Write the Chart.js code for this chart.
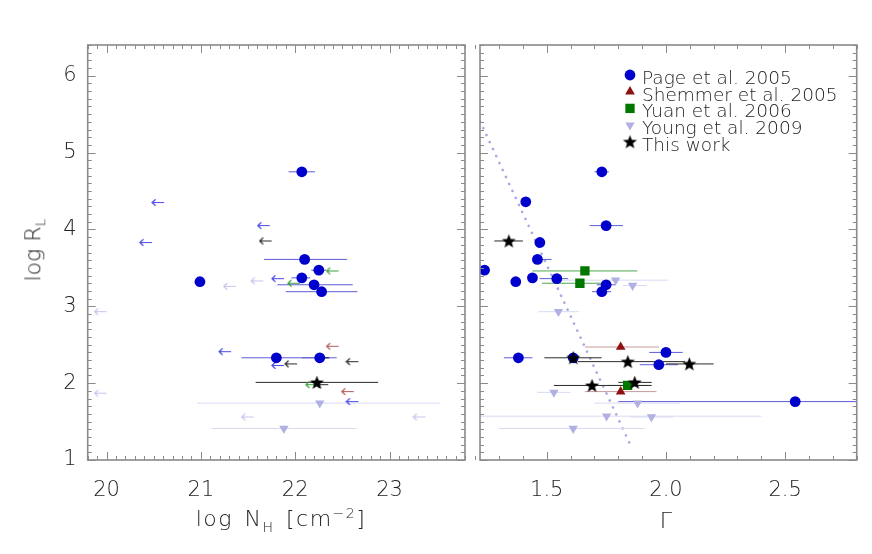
<!DOCTYPE html>
<html>
<head>
<meta charset="utf-8">
<script src="https://cdn.jsdelivr.net/npm/chart.js@4.4.0/dist/chart.umd.min.js"></script>
<style>
    body { margin: 0; background: #fff; }
    #wrap { position: relative; width: 872px; height: 554px; overflow: hidden; font-family: "DejaVu Sans", sans-serif; font-weight: 200; color: #222; }
    canvas { position: absolute; top: 0; }
    #left-chart, #left-ticks { left: 0; }
    #right-chart, #right-ticks { left: 468px; }
    #left-ticks, #right-ticks { pointer-events: none; }
    .axis-title { position: absolute; font-size: 22px; white-space: nowrap; line-height: 1; }
    .axis-title sub, .axis-title sup { font-size: 14px; }
    #ytitle { left: 35px; top: 250px; transform: translate(-50%, -50%) rotate(-90deg); }
    #xtitle-left { left: 281px; top: 520px; transform: translate(-50%, -50%); letter-spacing: 1.5px; word-spacing: 3px; }
    #xtitle-right { left: 666px; top: 521px; transform: translate(-50%, -50%); }
</style>
</head>
<body>
<div id="wrap">
    <canvas id="left-chart" width="475" height="554"></canvas>
    <canvas id="right-chart" width="404" height="554"></canvas>
    <canvas id="left-ticks" width="475" height="554"></canvas>
    <canvas id="right-ticks" width="404" height="554"></canvas>
    <div class="axis-title" id="ytitle">log R<sub>L</sub></div>
    <div class="axis-title" id="xtitle-left">log N<sub>H</sub> [cm<sup>&minus;2</sup>]</div>
    <div class="axis-title" id="xtitle-right">&Gamma;</div>
</div>
<script>
// ---- left panel: log NH ----
let pageNH = [22.07, 22.10, 22.25, 20.99, 22.07, 22.20, 22.28, 21.80, 22.26];
let pageNHRL = [4.75, 3.61, 3.47, 3.32, 3.37, 3.28, 3.19, 2.33, 2.33];
let pageNHLo = [21.93, 21.67, 22.17, null, 21.96, 21.81, 21.90, 21.43, 22.07];
let pageNHHi = [22.21, 22.55, 22.33, null, 22.16, 22.61, 22.66, 22.44, 22.36];
let pageLimNH = [20.61, 21.73, 20.48, 21.88, 21.32, 21.88, 22.67];
let pageLimRL = [4.35, 4.05, 3.83, 3.36, 2.41, 2.23, 1.76];
let shemmerLimNH = [22.46, 22.62];
let shemmerLimRL = [2.48, 1.89];
let yuanLimNH = [22.46, 22.05, 22.24];
let yuanLimRL = [3.46, 3.30, 1.98];
let youngNH = [22.26, 21.88];
let youngNHRL = [1.74, 1.41];
let youngNHLo = [20.96, 21.12];
let youngNHHi = [23.54, 22.65];
let youngLimNH = [21.37, 21.66, 20.00, 20.00, 21.56, 23.38];
let youngLimRL = [3.26, 3.33, 2.93, 1.87, 1.56, 1.56];
let workNH = [22.23];
let workNHRL = [2.01];
let workNHLo = [21.58];
let workNHHi = [22.88];
let workLimNH = [21.75, 22.36, 22.67, 22.02, 22.35];
let workLimRL = [3.85, 2.33, 2.28, 2.25, 1.98];

// ---- right panel: Gamma ----
let pageG = [1.731, 1.412, 1.749, 1.471, 1.461, 1.239, 1.370, 1.440, 1.542, 1.749, 1.731, 2.000, 1.381, 1.611, 1.970, 2.542];
let pageGRL = [4.75, 4.36, 4.05, 3.83, 3.61, 3.47, 3.32, 3.37, 3.36, 3.28, 3.19, 2.40, 2.33, 2.33, 2.24, 1.76];
let pageGLo = [1.70, null, 1.68, null, 1.44, null, null, null, 1.47, 1.71, 1.69, 1.93, 1.32, null, 1.89, 1.80];
let pageGHi = [1.76, null, 1.82, null, 1.52, null, null, null, 1.59, 1.79, 1.77, 2.07, 1.44, null, 2.05, 3.00];
let shemmerG = [1.81, 1.81];
let shemmerGRL = [2.47, 1.89];
let shemmerGLo = [1.66, 1.66];
let shemmerGHi = [1.97, 1.96];
let yuanG = [1.660, 1.639, 1.839];
let yuanGRL = [3.46, 3.30, 1.97];
let yuanGLo = [1.44, 1.48, 1.76];
let yuanGHi = [1.88, 1.76, 1.92];
let youngG = [1.789, 1.860, 1.549, 1.530, 1.881, 1.751, 1.939, 1.611];
let youngGRL = [3.34, 3.27, 2.93, 1.88, 1.74, 1.57, 1.56, 1.41];
let youngGLo = [1.53, 1.82, 1.465, 1.46, 1.70, 1.15, 1.85, 1.30];
let youngGHi = [2.01, 1.92, 1.636, 1.60, 2.06, 2.40, 2.03, 1.91];
let workG = [1.341, 1.611, 1.840, 2.098, 1.690, 1.869];
let workGRL = [3.85, 2.33, 2.28, 2.25, 1.97, 2.01];
let workGLo = [1.28, 1.49, 1.63, 2.00, 1.53, 1.80];
let workGHi = [1.40, 1.73, 2.08, 2.20, 1.94, 1.94];
let fitG = [1.22, 1.85];
let fitRL = [5.41, 1.20];

let legendNames = ['Page et al. 2005', 'Shemmer et al. 2005', 'Yuan et al. 2006', 'Young et al. 2009', 'This work'];
let xTicksLeft = [20, 21, 22, 23];
let xTicksRight = [1.5, 2.0, 2.5];
let yTicks = [1, 2, 3, 4, 5, 6];

let colors = {
    page: '#0000cc', pageBar: '#5c5cd8', pageArrow: '#4a4ae6',
    shemmer: '#8e1010', shemmerBar: '#c99a9a', shemmerArrow: '#b35a5a',
    yuan: '#007800', yuanBar: '#4fa64f', yuanArrow: '#40a040',
    young: '#b0b0e2', youngBar: '#d9d9f3', youngArrow: '#c4c4ee',
    work: '#000000', workBar: '#2a2a2a', workArrow: '#2a2a2a',
    fit: '#a8a8e0', frame: '#8a8a8a', text: '#222222'
};
let fontFamily = '"DejaVu Sans", sans-serif';

function points(xs, ys) {
    return xs.map((x, i) => ({ x: x, y: ys[i] }));
}

function barPoints(lo, hi, ys) {
    let pts = [];
    for (let i = 0; i < ys.length; i++) {
        if (lo[i] === null) continue;
        pts.push({ x: lo[i], y: ys[i] }, { x: hi[i], y: ys[i] }, { x: hi[i], y: null });
    }
    return pts;
}

// arrow pointing left, tail at the image centre
function makeArrow(color) {
    let c = document.createElement('canvas');
    c.width = 26;
    c.height = 9;
    let g = c.getContext('2d');
    g.strokeStyle = color;
    g.lineWidth = 1.2;
    g.beginPath();
    g.moveTo(13, 4.5);
    g.lineTo(1, 4.5);
    g.moveTo(4.5, 1.2);
    g.lineTo(1, 4.5);
    g.lineTo(4.5, 7.8);
    g.stroke();
    return c;
}

function makeStar(color, r) {
    let size = Math.ceil(r * 2 + 2);
    let c = document.createElement('canvas');
    c.width = size;
    c.height = size;
    let g = c.getContext('2d');
    g.fillStyle = color;
    g.beginPath();
    for (let i = 0; i < 10; i++) {
        let rr = i % 2 ? r * 0.42 : r;
        let a = -Math.PI / 2 + i * Math.PI / 5;
        g.lineTo(size / 2 + rr * Math.cos(a), size / 2 + 0.6 + rr * Math.sin(a));
    }
    g.closePath();
    g.fill();
    return c;
}

let starImg = makeStar(colors.work, 7.4);

function markerSet(label, data, color, style, radius, rotation) {
    return {
        label: label,
        data: data,
        pointStyle: style,
        pointRadius: radius,
        pointRotation: rotation || 0,
        pointBackgroundColor: color,
        backgroundColor: color,
        pointBorderWidth: 0,
        borderWidth: 0,
        showLine: false
    };
}

function arrowSet(data, color) {
    return {
        data: data,
        pointStyle: makeArrow(color),
        pointRadius: 6,
        pointBorderWidth: 0,
        showLine: false
    };
}

function barSet(data, color) {
    return {
        data: data,
        showLine: true,
        spanGaps: false,
        borderColor: color,
        borderWidth: 1,
        pointRadius: 0
    };
}

function isMajor(list, v) {
    for (let i = 0; i < list.length; i++) {
        if (Math.abs(list[i] - v) < 1e-6) return true;
    }
    return false;
}

// pixel for a value on a scale, falling back to the chart area if it looks wrong
function pixelFor(scale, v, lo, hi, start, end) {
    let p = scale.getPixelForValue(v);
    let min = Math.min(start, end) - 2, max = Math.max(start, end) + 2;
    if (!isFinite(p) || p < min || p > max) {
        p = start + (v - lo) / (hi - lo) * (end - start);
    }
    return Math.round(p);
}

// frame plus inward ticks (minor every 0.1) on all four sides, drawn on an overlay canvas
function drawFrame(chart, overlayId, xMin, xMax, xMajor) {
    let ov = document.getElementById(overlayId);
    let ctx = ov.getContext('2d');
    let a = chart.chartArea;
    let xs = chart.scales.x;
    let ys = chart.scales.y;
    ctx.clearRect(0, 0, ov.width, ov.height);
    ctx.fillStyle = colors.frame;
    for (let k = Math.round(xMin * 10); k <= Math.round(xMax * 10); k++) {
        let v = k / 10;
        let len = isMajor(xMajor, v) ? 8 : 4;
        let px = pixelFor(xs, v, xMin, xMax, a.left, a.right);
        ctx.fillRect(px, a.bottom - len, 1, len);
        ctx.fillRect(px, a.top, 1, len);
    }
    for (let k = 10; k <= 64; k++) {
        let v = k / 10;
        let len = isMajor(yTicks, v) ? 8 : 4;
        let py = pixelFor(ys, v, 1, 6.4, a.bottom, a.top);
        ctx.fillRect(a.left, py, len, 1);
        ctx.fillRect(a.right - len, py, len, 1);
    }
    ctx.strokeStyle = colors.frame;
    ctx.lineWidth = 1.6;
    ctx.strokeRect(a.left, a.top, a.right - a.left, a.bottom - a.top);
}

let legendBox = {
    id: 'legendBox',
    afterDraw(chart) {
        let ctx = chart.ctx;
        let index = [4, 3, 2, 1, 0];
        ctx.save();
        ctx.font = '200 18.5px ' + fontFamily;
        ctx.textBaseline = 'middle';
        ctx.textAlign = 'left';
        for (let i = 0; i < legendNames.length; i++) {
            let ds = chart.data.datasets[index[i]];
            let y = 75 + i * 16.7;
            ctx.fillStyle = ds.pointBackgroundColor || '#000';
            Chart.helpers.drawPoint(ctx, {
                pointStyle: ds.pointStyle,
                radius: ds.pointRadius,
                rotation: ds.pointRotation || 0,
                borderWidth: 0
            }, 162, y);
            ctx.fillStyle = colors.text;
            ctx.fillText(legendNames[i], 174, y + 4);
        }
        ctx.restore();
    }
};

function tickFont() {
    return { family: fontFamily, size: 21, weight: 200 };
}

function makeOptions(xMin, xMax, xTicks, yWidth, padRight, showY, decimals) {
    return {
        responsive: false,
        maintainAspectRatio: false,
        animation: false,
        devicePixelRatio: 1,
        layout: { padding: { top: 45, right: padRight, left: 0, bottom: 0 } },
        plugins: {
            legend: { display: false },
            tooltip: { enabled: false }
        },
        scales: {
            x: {
                type: 'linear',
                min: xMin,
                max: xMax,
                grid: { display: false, drawTicks: false },
                border: { display: false },
                afterFit: function (scale) { scale.height = 94; },
                afterBuildTicks: function (scale) {
                    scale.ticks = xTicks.map(v => ({ value: v }));
                },
                ticks: {
                    padding: 18,
                    color: colors.text,
                    font: tickFont(),
                    maxRotation: 0,
                    callback: function (v) { return v.toFixed(decimals); }
                }
            },
            y: {
                type: 'linear',
                min: 1,
                max: 6.4,
                grid: { display: false, drawTicks: false },
                border: { display: false },
                afterFit: function (scale) { scale.width = yWidth; },
                afterBuildTicks: function (scale) {
                    scale.ticks = yTicks.map(v => ({ value: v }));
                },
                ticks: {
                    display: showY,
                    padding: 11,
                    color: colors.text,
                    font: tickFont()
                }
            }
        }
    };
}

let leftDatasets = [
    markerSet('This work', points(workNH, workNHRL), colors.work, starImg, 7),
    markerSet('Young', points(youngNH, youngNHRL), colors.young, 'triangle', 5.4, 180),
    markerSet('Page', points(pageNH, pageNHRL), colors.page, 'circle', 5.4),
    arrowSet(points(workLimNH, workLimRL), colors.workArrow),
    arrowSet(points(youngLimNH, youngLimRL), colors.youngArrow),
    arrowSet(points(yuanLimNH, yuanLimRL), colors.yuanArrow),
    arrowSet(points(shemmerLimNH, shemmerLimRL), colors.shemmerArrow),
    arrowSet(points(pageLimNH, pageLimRL), colors.pageArrow),
    barSet(barPoints(workNHLo, workNHHi, workNHRL), colors.workBar),
    barSet(barPoints(youngNHLo, youngNHHi, youngNHRL), colors.youngBar),
    barSet(barPoints(pageNHLo, pageNHHi, pageNHRL), colors.pageBar)
];

let rightDatasets = [
    markerSet('This work', points(workG, workGRL), colors.work, starImg, 7),
    markerSet('Young', points(youngG, youngGRL), colors.young, 'triangle', 5.4, 180),
    markerSet('Yuan', points(yuanG, yuanGRL), colors.yuan, 'rect', 6.6),
    markerSet('Shemmer', points(shemmerG, shemmerGRL), colors.shemmer, 'triangle', 5.6),
    markerSet('Page', points(pageG, pageGRL), colors.page, 'circle', 5.4),
    barSet(barPoints(workGLo, workGHi, workGRL), colors.workBar),
    barSet(barPoints(youngGLo, youngGHi, youngGRL), colors.youngBar),
    barSet(barPoints(yuanGLo, yuanGHi, yuanGRL), colors.yuanBar),
    barSet(barPoints(shemmerGLo, shemmerGHi, shemmerGRL), colors.shemmerBar),
    barSet(barPoints(pageGLo, pageGHi, pageGRL), colors.pageBar),
    {
        data: points(fitG, fitRL),
        showLine: true,
        borderColor: colors.fit,
        borderWidth: 2.6,
        borderDash: [0.1, 7.6],
        borderCapStyle: 'round',
        pointRadius: 0
    }
];

let leftChart = new Chart(document.getElementById('left-chart').getContext('2d'), {
    type: 'scatter',
    data: { datasets: leftDatasets },
    options: makeOptions(19.8, 23.8, xTicksLeft, 87.7, 10, true, 0)
});

let rightChart = new Chart(document.getElementById('right-chart').getContext('2d'), {
    type: 'scatter',
    data: { datasets: rightDatasets },
    options: makeOptions(1.22, 2.8, xTicksRight, 12, 15.3, false, 1),
    plugins: [legendBox]
});

drawFrame(leftChart, 'left-ticks', 19.8, 23.8, xTicksLeft);
drawFrame(rightChart, 'right-ticks', 1.22, 2.8, xTicksRight);
</script>
</body>
</html>
